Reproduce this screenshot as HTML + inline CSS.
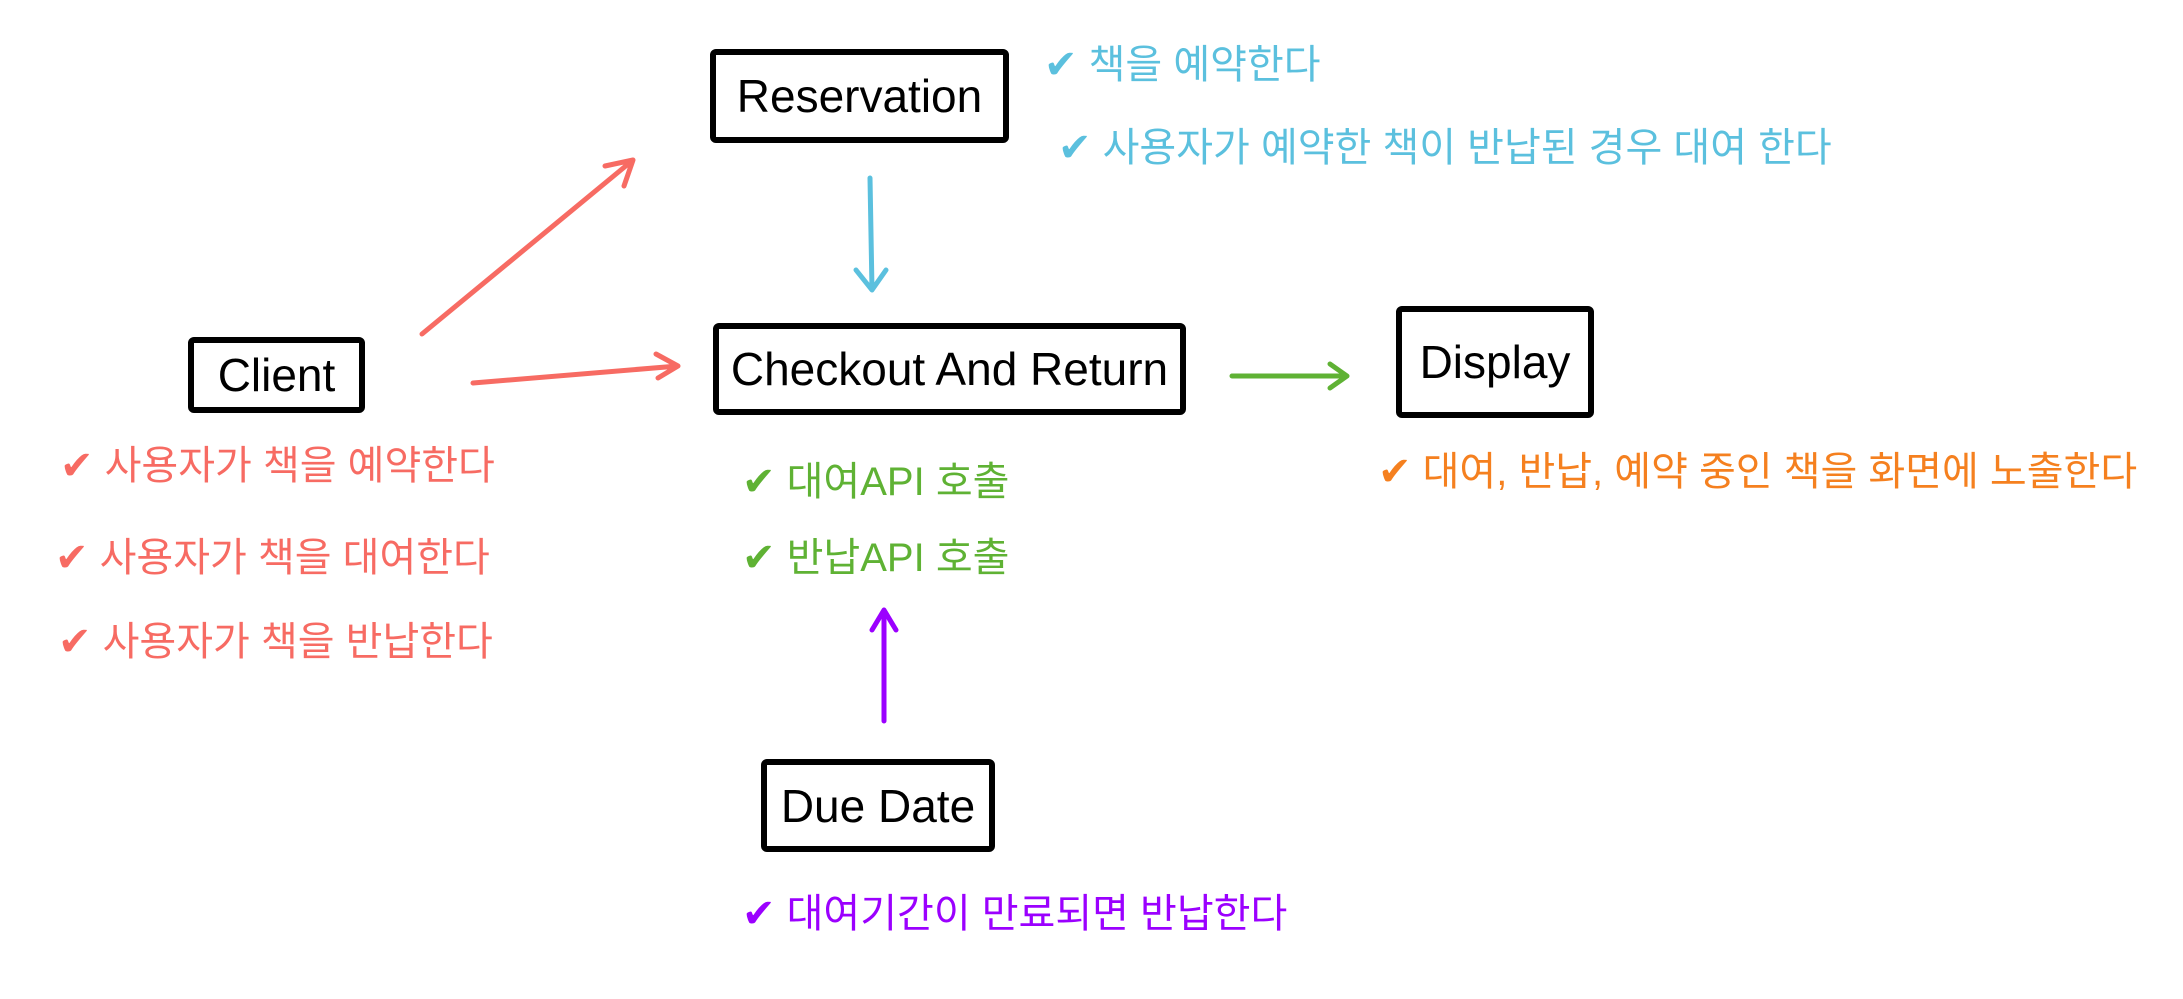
<!DOCTYPE html>
<html><head><meta charset="utf-8"><style>
body{margin:0;width:2183px;height:999px;background:#fff;overflow:hidden;position:relative;font-family:"Liberation Sans","Noto Sans CJK KR",sans-serif}
.b{position:absolute;border:6px solid #000;border-radius:6px;box-sizing:border-box;display:flex;align-items:center;justify-content:center;font-size:46px;color:#000;font-family:"Liberation Sans Narrow","Liberation Sans",sans-serif}
.t{position:absolute;font-size:40px;white-space:nowrap;line-height:1}
.r{color:#f76b63}.c{color:#5bc0de}.g{color:#5fb234}.o{color:#f5801f}.p{color:#9b00ff}
</style></head><body>
<svg width="2183" height="999" style="position:absolute;left:0;top:0" fill="none" stroke-width="5" stroke-linecap="round" stroke-linejoin="round">
<g stroke="#f76b63"><path d="M422 334 L633 160 M605 166 L633 160 L624 186"/><path d="M473 383 L678 366 M656 354 L678 366 L658 378"/></g>
<g stroke="#5bc0de"><path d="M870 178 L872 290 M856 270 L872 290 L886 270"/></g>
<g stroke="#5fb234"><path d="M1232 376 L1347 376 M1330 364 L1347 376 L1330 388"/></g>
<g stroke="#9b00ff"><path d="M884 721 L884 610 M872 630 L884 610 L896 630"/></g>
</svg>
<div class="b" style="left:710px;top:49px;width:299px;height:94px">Reservation</div>
<div class="b" style="left:713px;top:323px;width:473px;height:92px">Checkout And Return</div>
<div class="b" style="left:188px;top:337px;width:177px;height:76px">Client</div>
<div class="b" style="left:1396px;top:306px;width:198px;height:112px">Display</div>
<div class="b" style="left:761px;top:759px;width:234px;height:93px">Due Date</div>
<div class="t c" style="left:1044px;top:45px">✔ 책을 예약한다</div>
<div class="t c" style="left:1058px;top:128px">✔ 사용자가 예약한 책이 반납된 경우 대여 한다</div>
<div class="t r" style="left:60px;top:446px">✔ 사용자가 책을 예약한다</div>
<div class="t r" style="left:55px;top:538px">✔ 사용자가 책을 대여한다</div>
<div class="t r" style="left:58px;top:622px">✔ 사용자가 책을 반납한다</div>
<div class="t g" style="left:742px;top:462px">✔ 대여API 호출</div>
<div class="t g" style="left:742px;top:538px">✔ 반납API 호출</div>
<div class="t o" style="left:1378px;top:452px">✔ 대여, 반납, 예약 중인 책을 화면에 노출한다</div>
<div class="t p" style="left:742px;top:894px">✔ 대여기간이 만료되면 반납한다</div>
</body></html>
